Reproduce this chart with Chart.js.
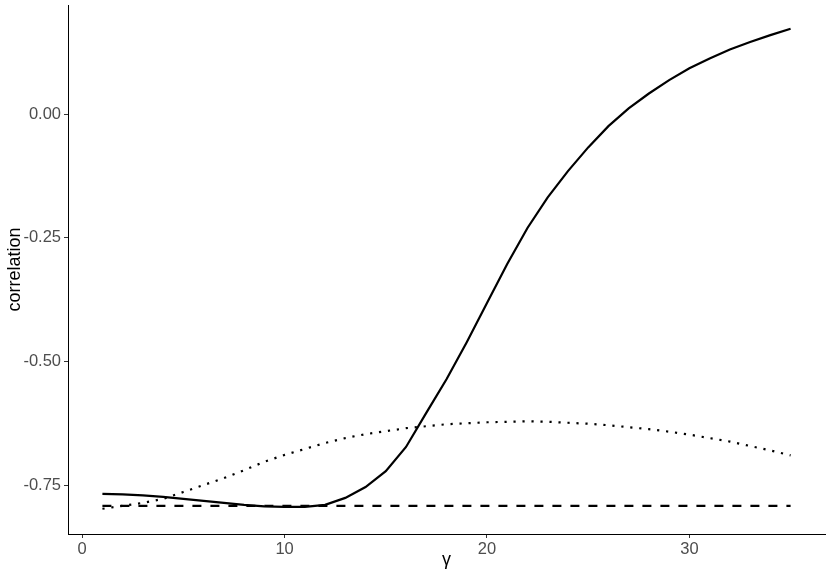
<!DOCTYPE html>
<html>
<head>
<meta charset="utf-8">
<script src="https://cdn.jsdelivr.net/npm/chart.js@4"></script>
<style>
  html, body { margin: 0; padding: 0; background: #ffffff; }
  #wrap { width: 830px; height: 575px; }
</style>
</head>
<body>
<div id="wrap"><canvas id="c" width="830" height="575"></canvas></div>
<script>
const gammaValues = [1,2,3,4,5,6,7,8,9,10,11,12,13,14,15,16,17,18,19,20,21,22,23,24,25,26,27,28,29,30,31,32,33,34,35];
const solidSeries = [-0.768,-0.769,-0.771,-0.774,-0.778,-0.782,-0.786,-0.790,-0.793,-0.794,-0.794,-0.790,-0.776,-0.754,-0.722,-0.673,-0.604,-0.536,-0.461,-0.382,-0.303,-0.230,-0.168,-0.115,-0.067,-0.024,0.012,0.042,0.069,0.093,0.113,0.131,0.146,0.160,0.173];
const dashedSeries = [-0.792,-0.792,-0.792,-0.792,-0.792,-0.792,-0.792,-0.792,-0.792,-0.792,-0.792,-0.792,-0.792,-0.792,-0.792,-0.792,-0.792,-0.792,-0.792,-0.792,-0.792,-0.792,-0.792,-0.792,-0.792,-0.792,-0.792,-0.792,-0.792,-0.792,-0.792,-0.792,-0.792,-0.792,-0.792];
const dottedSeries = [-0.798,-0.792,-0.786,-0.778,-0.764,-0.750,-0.736,-0.720,-0.703,-0.689,-0.677,-0.665,-0.655,-0.647,-0.641,-0.635,-0.631,-0.627,-0.625,-0.623,-0.622,-0.621,-0.622,-0.624,-0.626,-0.629,-0.633,-0.637,-0.642,-0.648,-0.655,-0.662,-0.671,-0.680,-0.690];
const xTickValues = [0, 10, 20, 30];
const yTickValues = [-0.75, -0.50, -0.25, 0.00];
const xTitle = 'γ';
const yTitle = 'correlation';

const pts = (arr) => arr.map((v, i) => ({ x: gammaValues[i], y: v }));
const FONT = '"Liberation Sans", Arial, Helvetica, sans-serif';

new Chart(document.getElementById('c'), {
  type: 'line',
  data: {
    datasets: [
      { label: 'dashed', data: pts(dashedSeries), borderColor: '#000', borderWidth: 2.2, borderDash: [9, 9], borderCapStyle: 'butt', pointRadius: 0, tension: 0, fill: false },
      { label: 'dotted', data: pts(dottedSeries), borderColor: '#000', borderWidth: 2.2, borderDash: [2.2, 6.8], borderCapStyle: 'butt', pointRadius: 0, tension: 0, fill: false },
      { label: 'solid', data: pts(solidSeries), borderColor: '#000', borderWidth: 2.2, pointRadius: 0, tension: 0, fill: false }
    ]
  },
  options: {
    responsive: false,
    animation: false,
    devicePixelRatio: 1,
    layout: { padding: { top: 5, right: 5, left: 0, bottom: 0 } },
    plugins: { legend: { display: false }, tooltip: { enabled: false } },
    scales: {
      x: {
        type: 'linear',
        min: -0.7,
        max: 36.7,
        afterBuildTicks: (s) => { s.ticks = xTickValues.map(v => ({ value: v })); },
        afterFit: (s) => { s.height = 41; s.paddingLeft = 0; s.paddingRight = 0; },
        grid: { display: true, drawOnChartArea: false, drawTicks: true, tickLength: 4, color: '#333333', lineWidth: 1 },
        border: { display: true, color: '#000000', width: 1 },
        ticks: { color: '#4d4d4d', font: { family: FONT, size: 16.5 }, padding: 2, maxRotation: 0, callback: (v) => String(v) },
        title: { display: true, text: xTitle, color: '#000', font: { family: FONT, size: 18 }, padding: { top: 0, bottom: 4 } }
      },
      y: {
        type: 'linear',
        min: -0.849,
        max: 0.221,
        afterBuildTicks: (s) => { s.ticks = yTickValues.map(v => ({ value: v })); },
        afterFit: (s) => { s.width = 68; s.paddingTop = 0; s.paddingBottom = 0; },
        grid: { display: true, drawOnChartArea: false, drawTicks: true, tickLength: 4, color: '#333333', lineWidth: 1 },
        border: { display: true, color: '#000000', width: 1 },
        ticks: { color: '#4d4d4d', font: { family: FONT, size: 16.5 }, padding: 3, callback: (v) => Number(v).toFixed(2) },
        title: { display: true, text: yTitle, color: '#000', font: { family: FONT, size: 18 }, padding: { top: 4, bottom: 0 } }
      }
    }
  }
});
</script>
</body>
</html>
